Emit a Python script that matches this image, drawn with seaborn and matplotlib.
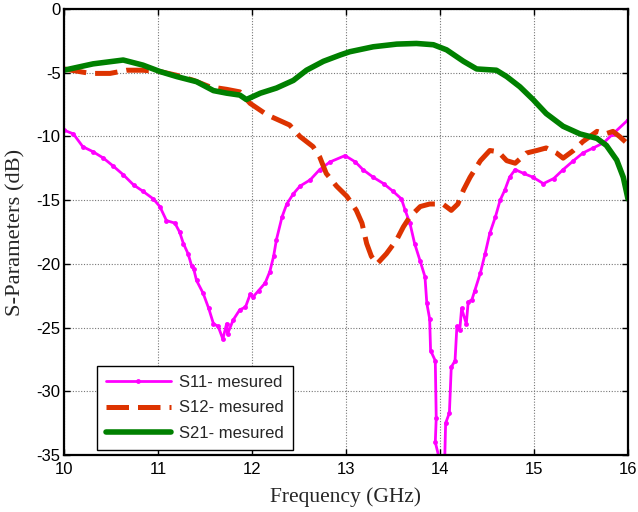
import matplotlib
matplotlib.use("Agg")
import matplotlib.pyplot as plt
import numpy as np
import pandas as pd
import seaborn as sns

# Measured S-parameters (frequency in GHz, magnitude in dB)
s11_freq = [10.00, 10.10, 10.20, 10.31, 10.42, 10.52, 10.63, 10.74, 10.84, 10.95,
            11.02, 11.09, 11.18, 11.23, 11.27, 11.32, 11.36, 11.38, 11.41, 11.48,
            11.54, 11.59, 11.64, 11.69, 11.73, 11.74, 11.80, 11.87, 11.93, 11.98,
            12.01, 12.07, 12.14, 12.19, 12.23, 12.26, 12.32, 12.37, 12.44, 12.51,
            12.62, 12.72, 12.83, 12.99, 13.10, 13.18, 13.29, 13.40, 13.50, 13.59,
            13.63, 13.68, 13.73, 13.79, 13.84, 13.86, 13.89, 13.90, 13.95, 13.96,
            13.95, 14.00, 14.05, 14.06, 14.10, 14.12, 14.16, 14.18, 14.21, 14.23,
            14.28, 14.30, 14.34, 14.37, 14.43, 14.48, 14.53, 14.59, 14.64, 14.69,
            14.74, 14.80, 14.89, 14.99, 15.10, 15.21, 15.31, 15.42, 15.52, 15.63,
            15.74, 15.84, 16.00]
s11_db = [-9.5, -9.8, -10.8, -11.2, -11.7, -12.3, -13.0, -13.8, -14.3, -14.9,
          -15.5, -16.6, -16.8, -17.5, -18.4, -19.2, -20.2, -20.4, -21.3, -22.3,
          -23.5, -24.7, -24.9, -25.9, -24.7, -25.5, -24.4, -23.6, -23.4, -22.4,
          -22.6, -22.1, -21.5, -20.6, -19.4, -18.1, -16.3, -15.3, -14.5, -13.9,
          -13.4, -12.6, -12.0, -11.5, -12.0, -12.6, -13.2, -13.7, -14.3, -14.9,
          -15.8, -16.8, -18.4, -19.8, -21.0, -23.1, -24.3, -26.8, -27.6, -32.1,
          -34.0, -35.5, -35.5, -32.5, -31.7, -28.1, -27.6, -24.9, -25.2, -23.5,
          -24.7, -23.0, -22.8, -22.1, -20.7, -19.2, -17.6, -16.3, -15.0, -14.2,
          -13.2, -12.6, -12.9, -13.2, -13.7, -13.3, -12.6, -11.9, -11.3, -10.9,
          -10.5, -9.8, -8.7]

s12_freq = [10.00, 10.28, 10.49, 10.67, 10.84, 11.02, 11.20, 11.38, 11.55, 11.73,
            11.87, 11.98, 12.16, 12.40, 12.51, 12.65, 12.72, 12.79, 12.90, 13.01,
            13.11, 13.17, 13.22, 13.27, 13.33, 13.43, 13.54, 13.61, 13.68, 13.79,
            13.89, 14.03, 14.12, 14.19, 14.25, 14.32, 14.43, 14.53, 14.62, 14.71,
            14.80, 14.92, 15.03, 15.13, 15.24, 15.31, 15.42, 15.52, 15.67, 15.76,
            15.84, 15.91, 16.00]
s12_db = [-4.7, -5.05, -5.05, -4.8, -4.8, -4.9, -5.2, -5.6, -6.1, -6.3,
          -6.5, -7.4, -8.3, -9.1, -10.0, -10.8, -11.6, -12.9, -13.9, -14.7,
          -15.8, -16.8, -18.4, -19.4, -20.0, -19.2, -18.1, -17.1, -16.3, -15.5,
          -15.3, -15.3, -15.8, -15.3, -14.2, -13.2, -11.9, -11.1, -11.2, -11.9,
          -12.1, -11.3, -11.1, -10.9, -11.3, -11.7, -11.1, -10.4, -9.6, -9.8,
          -9.6, -10.0, -10.6]

s21_freq = [10.00, 10.31, 10.63, 10.84, 11.02, 11.20, 11.41, 11.59, 11.73, 11.87,
            11.94, 12.09, 12.26, 12.44, 12.58, 12.76, 12.94, 13.04, 13.29, 13.54,
            13.75, 13.93, 14.07, 14.25, 14.39, 14.60, 14.71, 14.85, 14.99, 15.13,
            15.31, 15.49, 15.67, 15.77, 15.88, 15.95, 16.00]
s21_db = [-4.8, -4.3, -4.0, -4.4, -4.9, -5.3, -5.7, -6.4, -6.6, -6.75,
          -7.1, -6.6, -6.2, -5.6, -4.8, -4.1, -3.6, -3.35, -2.96, -2.75,
          -2.7, -2.8, -3.2, -4.1, -4.7, -4.8, -5.3, -6.1, -7.1, -8.2,
          -9.2, -9.8, -10.15, -10.7, -11.85, -13.2, -14.9]

x_ticks = [10, 11, 12, 13, 14, 15, 16]
y_ticks = [0, -5, -10, -15, -20, -25, -30, -35]

sns.set_theme(style="white")
plt.rcParams["font.family"] = ["Liberation Sans", "DejaVu Sans"]

fig = plt.figure(figsize=(6.38, 5.12), dpi=100)
ax = fig.add_axes([0.1003, 0.1113, 0.884, 0.871])

s11 = pd.DataFrame({"f": s11_freq, "db": s11_db})
s12 = pd.DataFrame({"f": s12_freq, "db": s12_db})
s21 = pd.DataFrame({"f": s21_freq, "db": s21_db})

sns.lineplot(data=s11, x="f", y="db", ax=ax, sort=False, estimator=None,
             color="#ff00ff", linewidth=2.0, marker="o", markersize=3.5,
             markeredgewidth=0, label="S11- mesured")
sns.lineplot(data=s12, x="f", y="db", ax=ax, sort=False, estimator=None,
             color="#dd3300", linewidth=3.6, dashes=(4.5, 1.8),
             label="S12- mesured")
sns.lineplot(data=s21, x="f", y="db", ax=ax, sort=False, estimator=None,
             color="#008000", linewidth=4.0, label="S21- mesured")

ax.set_xlim(10, 16)
ax.set_ylim(-35, 0)
ax.set_xticks(x_ticks)
ax.set_yticks(y_ticks)
ax.set_xticklabels([str(v) for v in x_ticks], fontsize=12)
ax.set_yticklabels([str(v) for v in y_ticks], fontsize=12)
ax.tick_params(direction="in", length=4, width=1, top=True, right=True,
               bottom=True, left=True, colors="black")
ax.tick_params(axis="x", pad=5)
ax.tick_params(axis="y", pad=2.5)

ax.grid(True, color="#777777", linestyle=(0, (1, 1.5)), linewidth=0.8)
for side in ax.spines.values():
    side.set_color("black")
    side.set_linewidth(1.6)

ax.set_xlabel("Frequency (GHz)", fontsize=15.5, family=["Liberation Serif"])
ax.set_ylabel("S-Parameters (dB)", fontsize=16.2, family=["Liberation Serif"])
ax.xaxis.set_label_coords(0.5, -0.072)
ax.yaxis.set_label_coords(-0.069, 0.5)

leg = ax.legend(loc="lower left", bbox_to_anchor=(0.058, 0.011), fontsize=12,
                frameon=True, fancybox=False, edgecolor="black", framealpha=1,
                borderpad=0.55, labelspacing=0.63, handlelength=3.9,
                handletextpad=0.5, borderaxespad=0)
leg.get_frame().set_linewidth(1.0)

fig.savefig("out.png", dpi=100)
